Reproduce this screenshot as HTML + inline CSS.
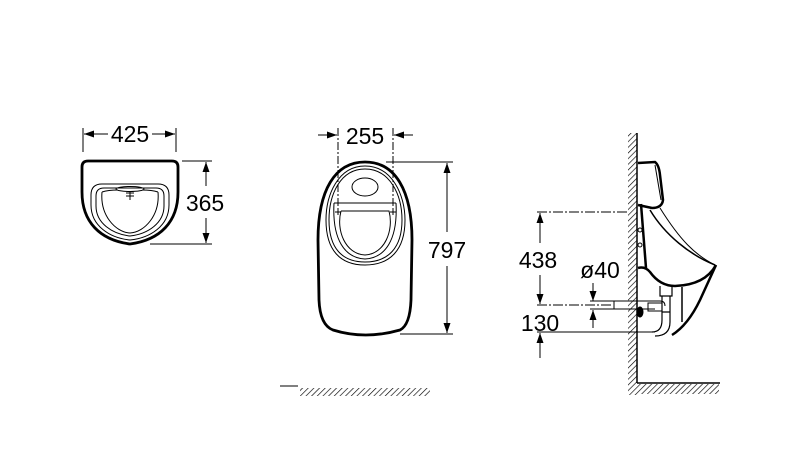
<!DOCTYPE html>
<html><head><meta charset="utf-8"><style>
html,body{margin:0;padding:0;background:#fff;}
svg{display:block;}
text{font-family:"Liberation Sans",sans-serif;font-size:23px;fill:#000;}
</style></head><body>
<svg width="800" height="470" viewBox="0 0 800 470" xmlns="http://www.w3.org/2000/svg">
<defs>
<marker id="a" viewBox="0 0 10 10" refX="10" refY="5" markerWidth="10" markerHeight="10" markerUnits="userSpaceOnUse" orient="auto"><path d="M0,1.5 L10,5 L0,8.5 Z" fill="#000"/></marker>
<pattern id="h" width="4" height="4" patternUnits="userSpaceOnUse" patternTransform="rotate(45)"><line x1="0" y1="0" x2="0" y2="4" stroke="#000" stroke-width="1.3"/></pattern>
</defs>
<g fill="none" stroke="#000">
<line x1="83" y1="128" x2="83" y2="152" stroke-width="1"/>
<line x1="176" y1="128" x2="176" y2="152" stroke-width="1"/>
<line x1="108" y1="134" x2="84" y2="134" marker-end="url(#a)"/>
<line x1="152" y1="134" x2="175" y2="134" marker-end="url(#a)"/>
<path d="M88,161 L172,161 Q178,161 178,167 L178,192 C178,222 160,240 130,244 C100,240 82,222 82,192 L82,167 Q82,161 88,161 Z" stroke-width="2.8"/>
<path d="M102,184 L158,184 Q169,184 169,195 L169,205 C169,226 150,238 130,240 C110,238 91,226 91,205 L91,195 Q91,184 102,184 Z" stroke-width="1"/>
<path d="M104,188 L156,188 Q164,188 164,196 L164,206 C164,223 148,234 130,236 C112,234 96,223 96,206 L96,196 Q96,188 104,188 Z" stroke-width="1"/>
<path d="M102,192 Q108,190 118,190 M142,190 Q152,190 158,192 M102,192 C100,215 115,232 130,233 C145,232 160,215 158,192" stroke-width="1"/>
<ellipse cx="130" cy="189" rx="14" ry="2.5" stroke-width="1"/>
<path d="M126,193 L134,193 M130,191 L130,200 M126,196 L134,196" stroke-width="1"/>
<line x1="182" y1="161" x2="212" y2="161" stroke-width="1"/>
<line x1="150" y1="244" x2="212" y2="244" stroke-width="1"/>
<line x1="206" y1="186" x2="206" y2="162" marker-end="url(#a)"/>
<line x1="206" y1="218" x2="206" y2="243" marker-end="url(#a)"/>
<line x1="338" y1="128" x2="338" y2="210" stroke-width="1" stroke-dasharray="8,2,2,2"/>
<line x1="393" y1="128" x2="393" y2="210" stroke-width="1" stroke-dasharray="8,2,2,2"/>
<line x1="318" y1="135" x2="337" y2="135" marker-end="url(#a)"/>
<line x1="413" y1="135" x2="394" y2="135" marker-end="url(#a)"/>
<path d="M365,162 C395,162 412,190 412,240 L411,300 Q410,325 400,330 Q365,340 333,330 Q320,325 319,300 L318,240 C318,190 335,162 365,162 Z" stroke-width="2.8"/>
<path d="M365,166 C392,166 405,195 405,220 C405,250 390,265 365,265 C340,265 326,250 326,220 C326,195 338,166 365,166 Z" stroke-width="1"/>
<path d="M365,169 C390,169 402,195 402,220 C402,248 388,262 365,262 C342,262 329,248 329,220 C329,195 340,169 365,169 Z" stroke-width="1"/>
<ellipse cx="365" cy="187" rx="13" ry="9" stroke-width="1"/>
<path d="M334,203 L396,203 M334,203 C332,240 345,258 365,259 C385,258 398,240 396,203" stroke-width="1"/>
<path d="M341,211 L389,211 C394,230 385,254 365,255 C345,254 336,230 341,211" stroke-width="1"/>
<path d="M338,209 v6 M335,212 h6 M393,209 v6 M390,212 h6" stroke-width="1"/>
<line x1="386" y1="162" x2="453" y2="162" stroke-width="1"/>
<line x1="400" y1="334" x2="453" y2="334" stroke-width="1"/>
<line x1="447" y1="232" x2="447" y2="163" marker-end="url(#a)"/>
<line x1="447" y1="266" x2="447" y2="333" marker-end="url(#a)"/>
<line x1="280" y1="386" x2="298" y2="386" stroke-width="1"/>
<line x1="637" y1="133" x2="637" y2="383" stroke-width="1.5"/>
<line x1="637" y1="383" x2="720" y2="383" stroke-width="1.5"/>
<line x1="537" y1="212" x2="628" y2="212" stroke-width="1" stroke-dasharray="10,2,2,2"/>
<line x1="537" y1="305" x2="612" y2="305" stroke-width="1" stroke-dasharray="10,2,2,2"/>
<line x1="540" y1="243" x2="540" y2="213" marker-end="url(#a)"/>
<line x1="540" y1="275" x2="540" y2="304" marker-end="url(#a)"/>
<line x1="537" y1="332" x2="655" y2="332" stroke-width="1"/>
<line x1="540" y1="358" x2="540" y2="333" marker-end="url(#a)"/>
<line x1="593" y1="283" x2="593" y2="301" marker-end="url(#a)"/>
<line x1="593" y1="328" x2="593" y2="310" marker-end="url(#a)"/>
<path d="M590,301 L660,301 Q665,301 665,306 M590,309 L655,309 M614,301 V309" stroke-width="1"/>
<path d="M638,163 L655,162 Q659,165 660,175 L663,200 Q662,208 652,208 L638,205" stroke-width="2.5"/>
<path d="M655,165 L661,200" stroke-width="1"/>
<path d="M641,204 L646,268" stroke-width="2.5"/>
<path d="M650,210 C665,235 690,255 715,265" stroke-width="1.5"/>
<path d="M660,208 C680,240 695,255 715,265" stroke-width="1"/>
<path d="M638,268 Q645,266 650,272 Q660,286 675,286 Q705,285 716,265" stroke-width="2.5"/>
<path d="M716,265 L700,300 Q688,325 672,335" stroke-width="2.5"/>
<path d="M682,287 L682,322" stroke-width="1.5"/>
<path d="M660,286 L660,296 L672,296 L672,286 M662,296 L662,312 L670,312 L670,296 M662,312 V320 Q662,332 652,332 M670,312 V322 Q670,336 655,336" stroke-width="1.2"/>
<rect x="648" y="303" width="14" height="8" stroke-width="1"/>
<ellipse cx="640" cy="312" rx="3" ry="5" fill="#000"/>
<circle cx="640" cy="230" r="2" stroke-width="1"/>
<circle cx="640" cy="245" r="2" stroke-width="1"/>
</g>
<rect x="300" y="388" width="130" height="8" fill="url(#h)"/>
<rect x="628" y="133" width="9" height="262" fill="url(#h)"/>
<rect x="637" y="384" width="82" height="10" fill="url(#h)"/>
<text x="130" y="142" text-anchor="middle">425</text>
<text x="205" y="211" text-anchor="middle">365</text>
<text x="365" y="144" text-anchor="middle">255</text>
<text x="447" y="258" text-anchor="middle">797</text>
<text x="538" y="268" text-anchor="middle">438</text>
<text x="600" y="278" text-anchor="middle">ø40</text>
<text x="540" y="331" text-anchor="middle">130</text>
</svg>
</body></html>
